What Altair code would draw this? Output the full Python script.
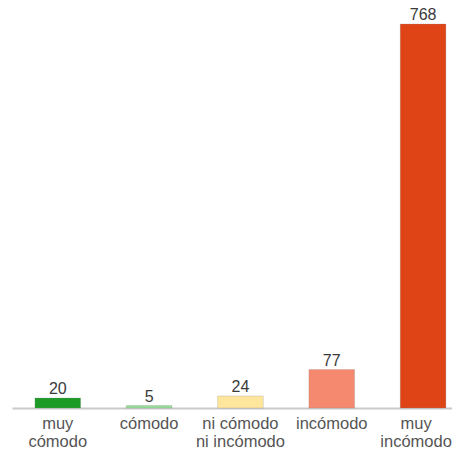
import altair as alt
import pandas as pd

categories = ["muy|cómodo", "cómodo", "ni cómodo|ni incómodo", "incómodo", "muy|incómodo"]
values = [20, 5, 24, 77, 768]
colors = ["#1c9c26", "#95de98", "#fee69c", "#f5896f", "#df4417"]

df = pd.DataFrame({"cat": categories, "value": values, "color": colors})

x = alt.X(
    "cat:N",
    sort=None,
    title=None,
    scale=alt.Scale(paddingInner=0.5, paddingOuter=0.159, align=0.79),
    axis=alt.Axis(
        labelAngle=0,
        ticks=False,
        domainColor="#c9c9c9",
        domainWidth=2,
        labelColor="#555555",
        labelFontSize=16.5,
        labelFont="Liberation Sans",
        labelLineHeight=18,
        labelPadding=7,
        labelOffset={"condition": {"test": "datum.value == 'muy|incómodo'", "value": -7}, "value": 0},
        labelExpr="split(datum.value, '|')",
    ),
)
y = alt.Y("value:Q", scale=alt.Scale(domain=[0, 768], nice=False), axis=None)

bars = alt.Chart(df).mark_bar(strokeWidth=1, strokeOpacity=0.25, stroke="#888888").encode(
    x=x, y=y, color=alt.Color("color:N", scale=None)
)
labels = alt.Chart(df).mark_text(
    baseline="alphabetic", dy=-4, fontSize=16, font="Liberation Sans", color="#3a3a3a"
).encode(x=x, y=y, text="value:Q")

chart = (
    (bars + labels)
    .properties(
        width=440,
        height=384,
        padding={"left": 4, "top": 16, "right": 0, "bottom": 41},
        autosize=alt.AutoSizeParams(type="none"),
    )
    .configure_view(stroke=None)
)
chart.save("out.html", embed_options={"renderer": "svg", "actions": False})
